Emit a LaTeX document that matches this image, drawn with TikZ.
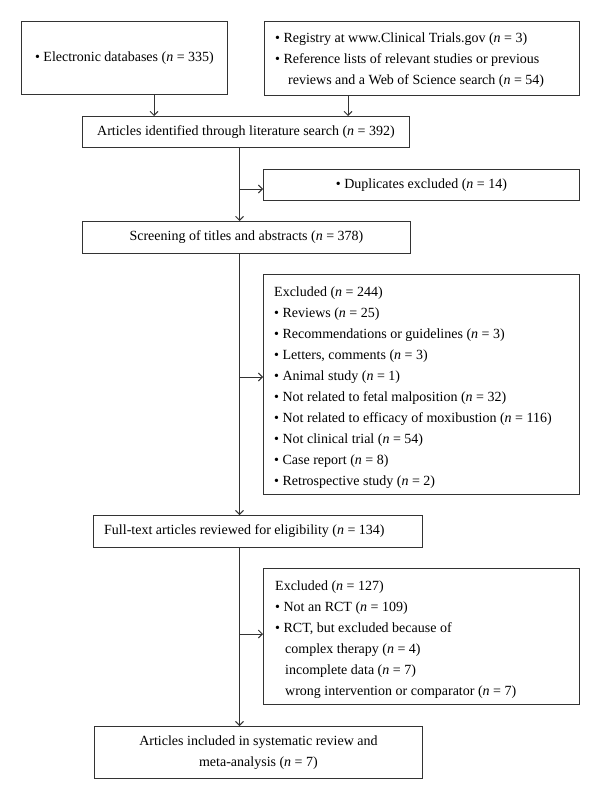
\documentclass[tikz,border=0pt]{standalone}
\usepackage{fontspec}
\setmainfont{Liberation Serif}
\usetikzlibrary{arrows.meta}
\newcommand{\nn}{\textit{n}}
\newcommand{\bul}{\textbullet\ }
\begin{document}
\begin{tikzpicture}[x=1pt,y=-1pt]
\tikzset{
 box/.style={draw=black!80, line width=0.9pt, anchor=north west, inner sep=0pt, font=\fontsize{14}{21}\selectfont, align=center},
 txt/.style={anchor=west, inner sep=0pt, align=left, font=\fontsize{14}{21}\selectfont},
 arr/.style={draw=black!80, line width=0.9pt, -{Straight Barb[length=4pt,width=8pt]}},
 ln/.style={draw=black!80, line width=0.9pt}
}
\useasboundingbox[fill=white] (0,0) rectangle (600,799);
% boxes
\node[box, minimum width=206pt, minimum height=73pt] (b1) at (21,21) {\bul Electronic databases (\nn{} = 335)};
\node[box, minimum width=315pt, minimum height=74pt] (b2) at (264,21) {};
\node[txt] (t2) at (275,60) {\bul Registry at www.Clinical Trials.gov (\nn{} = 3)\\ \bul Reference lists of relevant studies or previous\\ \hspace*{13pt}reviews and a Web of Science search (\nn{} = 54)};
\node[box, minimum width=327pt, minimum height=31pt] (art) at (82,116) {Articles identified through literature search (\nn{} = 392)};
\node[box, minimum width=316pt, minimum height=31pt] (dup) at (263,169) {\bul Duplicates excluded (\nn{} = 14)};
\node[box, minimum width=328pt, minimum height=32pt] (scr) at (82,221) {Screening of titles and abstracts (\nn{} = 378)};
\node[box, minimum width=316pt, minimum height=220pt] (ex1) at (263,274) {};
\node[txt] (t3) at (274,387.5) {Excluded (\nn{} = 244)\\
\bul Reviews (\nn{} = 25)\\
\bul Recommendations or guidelines (\nn{} = 3)\\
\bul Letters, comments (\nn{} = 3)\\
\bul Animal study (\nn{} = 1)\\
\bul Not related to fetal malposition (\nn{} = 32)\\
\bul Not related to efficacy of moxibustion (\nn{} = 116)\\
\bul Not clinical trial (\nn{} = 54)\\
\bul Case report (\nn{} = 8)\\
\bul Retrospective study (\nn{} = 2)};
\node[box, minimum width=329pt, minimum height=32pt] (ft) at (93,515) {};
\node[txt] (t5) at (104,531) {Full-text articles reviewed for eligibility (\nn{} = 134)};
\node[box, minimum width=316pt, minimum height=136pt] (ex2) at (263,568) {};
\node[txt] (t4) at (275,639.5) {Excluded (\nn{} = 127)\\
\bul Not an RCT (\nn{} = 109)\\
\bul RCT, but excluded because of\\
\hspace*{10pt}complex therapy (\nn{} = 4)\\
\hspace*{10pt}incomplete data (\nn{} = 7)\\
\hspace*{10pt}wrong intervention or comparator (\nn{} = 7)};
\node[box, minimum width=328pt, minimum height=52pt] (fin) at (94,726) {Articles included in systematic review and\\ meta-analysis (\nn{} = 7)};
% connectors
\coordinate (sx) at (239.5,0);
\coordinate (j1) at (239.5,189);
\coordinate (j2) at (239.5,377);
\coordinate (j3) at (239.5,634);
\draw[arr] (b1.south -| 154,0) -- (art.north -| 154,0);
\draw[arr] (b2.south -| 348,0) -- (art.north -| 348,0);
\draw[arr] (art.south -| sx) -- (scr.north -| sx);
\draw[arr] (j1) -- (j1 -| dup.west);
\draw[arr] (scr.south -| sx) -- (ft.north -| sx);
\draw[arr] (j2) -- (j2 -| ex1.west);
\draw[arr] (ft.south -| sx) -- (fin.north -| sx);
\draw[arr] (j3) -- (j3 -| ex2.west);
\end{tikzpicture}
\end{document}
